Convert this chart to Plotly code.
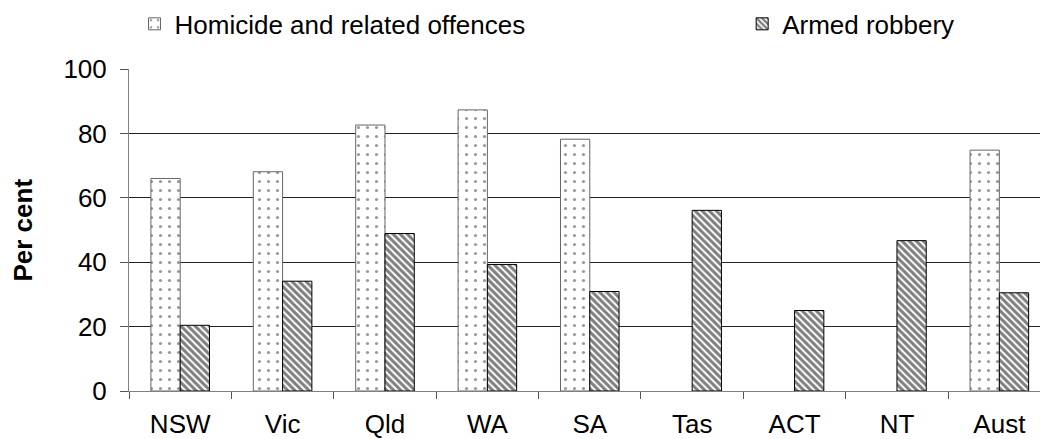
import plotly.graph_objects as go

categories = ["NSW", "Vic", "Qld", "WA", "SA", "Tas", "ACT", "NT", "Aust"]
homicide = [66.0, 68.1, 82.6, 87.3, 78.2, None, None, None, 74.8]
armed = [20.4, 34.1, 48.9, 39.3, 30.9, 56.1, 25.0, 46.7, 30.5]
y_ticks = [0, 20, 40, 60, 80, 100]

FONT = "Liberation Sans"
FS = 26
PW = 911.5

fig = go.Figure()
fig.add_trace(go.Bar(
    x=categories, y=homicide, name="Homicide and related offences",
    legend="legend",
    marker=dict(color="white",
                line=dict(color="#666666", width=1),
                pattern=dict(shape=".", fgcolor="#333333", bgcolor="white",
                             size=9, solidity=0.1)),
))
fig.add_trace(go.Bar(
    x=categories, y=armed, name="Armed robbery",
    legend="legend2",
    marker=dict(color="white",
                line=dict(color="#000000", width=1),
                pattern=dict(shape="\\", fgcolor="#000000", bgcolor="white",
                             size=5, solidity=0.6)),
))

leg_common = dict(orientation="h", xanchor="left", y=1.14, yanchor="middle",
                  font=dict(family=FONT, size=FS, color="black"),
                  bgcolor="rgba(0,0,0,0)")

fig.update_layout(
    width=1040, height=439,
    margin=dict(l=128.5, r=0, t=69.3, b=48.3, autoexpand=False),
    paper_bgcolor="white", plot_bgcolor="white",
    barmode="group", bargap=0.428, bargroupgap=0,
    font=dict(family=FONT, size=FS, color="black"),
    showlegend=True,
    legend=dict(x=(134 - 128.5) / PW, **leg_common),
    legend2=dict(x=(742 - 128.5) / PW, **leg_common),
    xaxis=dict(type="category", range=[-0.5, 8.397], showline=True,
               linecolor="#808080", linewidth=1, ticks="outside",
               tickson="boundaries", ticklen=7, tickcolor="#555555",
               showgrid=False, zeroline=False, ticklabelstandoff=10,
               automargin=False,
               tickfont=dict(family=FONT, size=FS, color="black")),
    yaxis=dict(range=[0, 100], tickvals=y_ticks, showline=True,
               linecolor="#808080", linewidth=1, ticks="outside",
               ticklen=8, tickcolor="#555555",
               showgrid=True, gridcolor="#222222", gridwidth=1,
               zeroline=False, ticklabelstandoff=8, automargin=False,
               tickfont=dict(family=FONT, size=FS, color="black")),
    annotations=[dict(text="<b>Per cent</b>", textangle=-90,
                      x=(22 - 128.5) / PW, xref="paper", xanchor="center",
                      y=0.5, yref="paper", yanchor="middle", showarrow=False,
                      font=dict(family=FONT, size=FS, color="black"))],
)

fig.write_html("out.html")
